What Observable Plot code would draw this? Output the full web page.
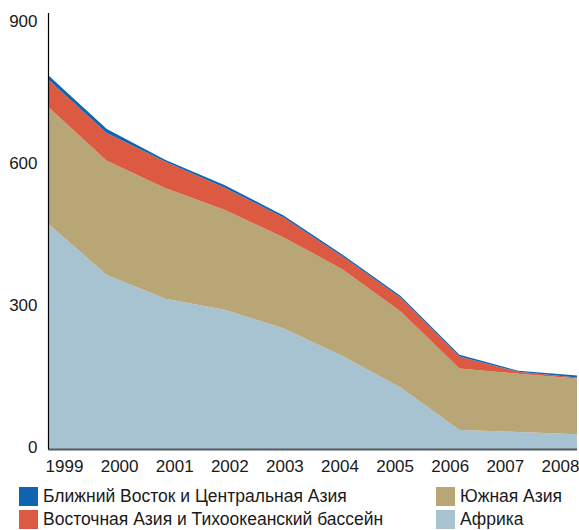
<!DOCTYPE html>
<html>
<head>
<meta charset="utf-8">
<script src="https://cdn.jsdelivr.net/npm/d3@7"></script>
<script src="https://cdn.jsdelivr.net/npm/@observablehq/plot@0.6"></script>
<style>
  html, body { margin: 0; padding: 0; background: #fff; }
  #wrap { position: relative; width: 579px; height: 530px; font-family: "Liberation Sans", Arial, sans-serif; }
  #legend { position: absolute; left: 0; top: 480px; width: 579px; height: 50px; }
  .item { position: absolute; display: flex; align-items: center; font-size: 17.5px; line-height: 19px; height: 19px; color: #1a1a1a; white-space: nowrap; }
  .sw { width: 19px; height: 19px; margin-right: 5px; flex: none; }
</style>
</head>
<body>
<div id="wrap"><div id="chart"></div><div id="legend"></div></div>
<script>
const years = [1999, 2000, 2001, 2002, 2003, 2004, 2005, 2006, 2007, 2008];
const africa    = [476, 367, 317, 294, 255, 197, 130, 40, 36, 31];
const southAsia = [246, 241, 233, 211, 192, 183, 160, 130, 123, 118];
const eastAsia  = [58, 59, 56, 47, 42, 27, 29, 25, 4, 2];
const nearEast  = [9, 8, 4, 5, 4, 4, 4, 4, 2, 4];
const yTicks = [0, 300, 600, 900];

const regions = [
  "Африка",
  "Южная Азия",
  "Восточная Азия и Тихоокеанский бассейн",
  "Ближний Восток и Центральная Азия"
];
const colors = ["#a7c2d1", "#b9a677", "#dc5a41", "#0f63b0"];
const seriesValues = [africa, southAsia, eastAsia, nearEast];

const rows = [];
regions.forEach((r, k) => years.forEach((y, i) => rows.push({year: y, region: r, value: seriesValues[k][i]})));

// tick labels are evenly spread slightly inside the data span in the original
const n = years.length - 1;
const labelX = y => years[0] + 0.272 + (y - years[0]) * 0.9375;

const font = "'Liberation Sans', Arial, sans-serif";
const chart = Plot.plot({
  width: 579,
  height: 480,
  marginLeft: 48,
  marginRight: 2,
  marginTop: 13,
  marginBottom: 31,
  style: {fontFamily: font, fontSize: "17px", color: "#1a1a1a", background: "#fff"},
  x: {domain: [years[0], years[n]], axis: null},
  y: {domain: [0, 920], axis: null},
  color: {domain: regions, range: colors},
  marks: [
    Plot.areaY(rows, {x: "year", y: "value", fill: "region", order: regions}),
    Plot.ruleY([0], {stroke: "#555a5e", strokeWidth: 2}),
    Plot.ruleX([years[0]], {y1: 0, y2: 920, stroke: "#000", strokeWidth: 1.2}),
    Plot.axisY({ticks: yTicks, tickSize: 0, tickPadding: 11, label: null, dy: -1.5, fontSize: 17}),
    Plot.text(years, {x: labelX, y: 0, dy: 17, text: d => String(d), fontSize: 17, fill: "#1a1a1a"})
  ]
});
document.getElementById("chart").appendChild(chart);

const legendItems = [
  {label: regions[3], color: colors[3], left: 19, top: 7},
  {label: regions[2], color: colors[2], left: 19, top: 30},
  {label: regions[1], color: colors[1], left: 436, top: 7},
  {label: regions[0], color: colors[0], left: 436, top: 30}
];
const legend = document.getElementById("legend");
legendItems.forEach(it => {
  const d = document.createElement("div");
  d.className = "item";
  d.style.left = it.left + "px";
  d.style.top = it.top + "px";
  d.innerHTML = `<span class="sw" style="background:${it.color}"></span><span>${it.label}</span>`;
  legend.appendChild(d);
});
</script>
</body>
</html>
